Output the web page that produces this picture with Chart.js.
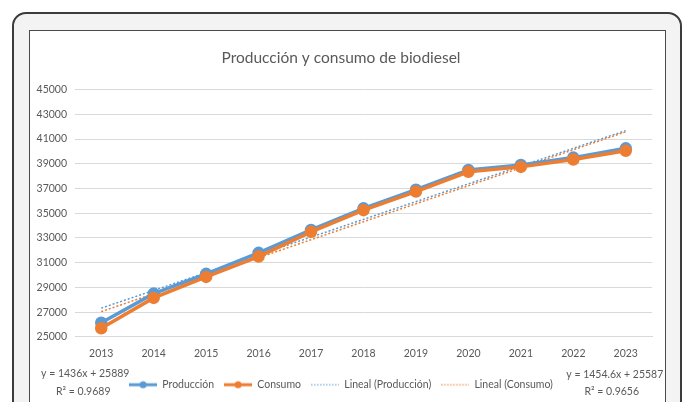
<!DOCTYPE html>
<html>
<head>
<meta charset="utf-8">
<script src="https://cdn.jsdelivr.net/npm/chart.js@4"></script>
<style>
  html, body { margin: 0; padding: 0; background: #ffffff; }
  body { width: 684px; height: 402px; overflow: hidden; position: relative; }
  .frame {
    position: absolute; left: 12px; top: 12px; width: 666px; height: 430px;
    border: 2px solid #3c3c3c; border-radius: 14px; background: #f3f3f3;
  }
  .box {
    position: absolute; left: 29px; top: 30px; width: 635px; height: 400px;
    border: 1px solid #4a4a4a; background: #ffffff;
  }
  .box canvas { position: absolute; left: 0; top: 0; }
</style>
</head>
<body>
<div class="frame"></div>
<div class="box">
  <canvas id="chart" width="635" height="371"></canvas>
</div>
<script>
// años
const years = ['2013', '2014', '2015', '2016', '2017', '2018', '2019', '2020', '2021', '2022', '2023'];

// valores
const produccion = [26150, 28500, 30100, 31800, 33650, 35400, 36900, 38500, 38900, 39500, 40250];
const consumo    = [25700, 28150, 29850, 31500, 33500, 35250, 36750, 38350, 38750, 39350, 40050];

// líneas de tendencia (y = 1436x + 25889 / y = 1454.6x + 25587)
const linealProduccion = [27325, 28761, 30197, 31633, 33069, 34505, 35941, 37377, 38813, 40249, 41685];
const linealConsumo    = [27042, 28496, 29951, 31405, 32860, 34315, 35769, 37224, 38678, 40133, 41588];

const eqProduccion = ['y = 1436x + 25889', 'R² = 0.9689'];
const eqConsumo    = ['y = 1454.6x + 25587', 'R² = 0.9656'];

const blue = '#5b9bd5';
const orange = '#ed7d31';
const textColor = '#595959';
const gridColor = '#d9d9d9';
const fontFamily = 'Lato, "Open Sans", sans-serif';

// legend swatches drawn like Excel (line + marker, or dotted line)
function swatch(color, dotted) {
    const c = document.createElement('canvas');
    c.width = 28; c.height = 10;
    const g = c.getContext('2d');
    g.strokeStyle = color;
    if (dotted) {
        g.lineWidth = 1.2;
        g.setLineDash([1.5, 1.5]);
        g.beginPath(); g.moveTo(0, 5); g.lineTo(28, 5); g.stroke();
    } else {
        g.lineWidth = 3;
        g.beginPath(); g.moveTo(0, 5); g.lineTo(28, 5); g.stroke();
        g.fillStyle = color;
        g.beginPath(); g.arc(14, 5, 3.5, 0, Math.PI * 2); g.fill();
    }
    return c;
}

const legendOrder = ['Producción', 'Consumo', 'Lineal (Producción)', 'Lineal (Consumo)'];

// trendline equations
const equationsPlugin = {
    id: 'equations',
    afterDraw(chart) {
        const ctx = chart.ctx;
        const x = chart.scales.x;
        ctx.save();
        ctx.fillStyle = textColor;
        ctx.font = '10.5px ' + fontFamily;
        ctx.textAlign = 'center';
        ctx.textBaseline = 'middle';
        const left = x.getPixelForValue(0) - 16;
        ctx.fillText(eqProduccion[0], left, 343);
        ctx.fillText(eqProduccion[1], left - 2, 361);
        const right = x.getPixelForValue(years.length - 1) - 11;
        ctx.fillText(eqConsumo[0], right, 344);
        ctx.fillText(eqConsumo[1], right - 3, 361);
        ctx.restore();
    }
};

new Chart(document.getElementById('chart').getContext('2d'), {
    type: 'line',
    data: {
        labels: years,
        datasets: [
            {
                label: 'Consumo',
                data: consumo,
                borderColor: orange,
                backgroundColor: orange,
                borderWidth: 3.5,
                pointRadius: 4.5,
                pointBackgroundColor: orange,
                pointBorderColor: orange,
                tension: 0,
                order: 0
            },
            {
                label: 'Producción',
                data: produccion,
                borderColor: blue,
                backgroundColor: blue,
                borderWidth: 3.5,
                pointRadius: 4.5,
                pointBackgroundColor: blue,
                pointBorderColor: blue,
                tension: 0,
                order: 1
            },
            {
                label: 'Lineal (Consumo)',
                data: linealConsumo,
                borderColor: orange,
                borderWidth: 1.5,
                borderDash: [2, 2],
                pointRadius: 0,
                tension: 0,
                order: 2
            },
            {
                label: 'Lineal (Producción)',
                data: linealProduccion,
                borderColor: blue,
                borderWidth: 1.5,
                borderDash: [2, 2],
                pointRadius: 0,
                tension: 0,
                order: 3
            }
        ]
    },
    options: {
        responsive: false,
        animation: false,
        layout: { padding: { left: 0, right: 13, top: 0, bottom: 2 } },
        plugins: {
            title: {
                display: true,
                text: 'Producción y consumo de biodiesel',
                color: textColor,
                font: { family: fontFamily, size: 15.5, weight: 'normal' },
                padding: { top: 18, bottom: 22 }
            },
            legend: {
                display: true,
                position: 'bottom',
                labels: {
                    color: textColor,
                    font: { family: fontFamily, size: 10.5 },
                    usePointStyle: true,
                    pointStyleWidth: 28,
                    padding: 10,
                    generateLabels: function (chart) {
                        const ds = chart.data.datasets;
                        return legendOrder.map(function (name) {
                            const i = ds.findIndex(d => d.label === name);
                            const d = ds[i];
                            return {
                                text: name,
                                datasetIndex: i,
                                fontColor: textColor,
                                pointStyle: swatch(d.borderColor, !!d.borderDash),
                                strokeStyle: d.borderColor,
                                fillStyle: d.borderColor,
                                lineWidth: 0,
                                hidden: false
                            };
                        });
                    }
                }
            },
            tooltip: { enabled: false }
        },
        scales: {
            x: {
                offset: true,
                grid: { display: false, drawTicks: false },
                border: { display: true, color: gridColor },
                ticks: { color: textColor, font: { family: fontFamily, size: 10.5 }, padding: 10 }
            },
            y: {
                min: 25000,
                max: 45000,
                afterFit: function (s) { s.width = 45; },
                grid: { color: gridColor, drawTicks: false, lineWidth: 1 },
                border: { display: false },
                ticks: {
                    stepSize: 2000,
                    color: textColor,
                    padding: 8,
                    font: { family: fontFamily, size: 10.5 },
                    callback: function (v) { return String(v); }
                }
            }
        }
    },
    plugins: [equationsPlugin]
});
</script>
</body>
</html>
